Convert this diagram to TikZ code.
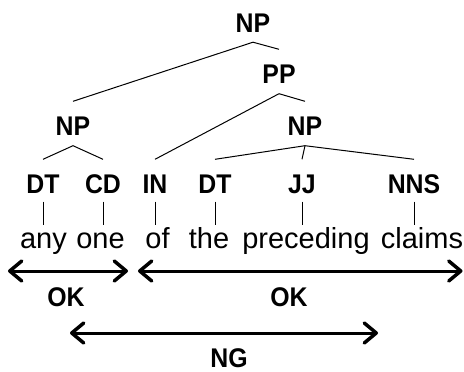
\documentclass[tikz,border=0pt]{standalone}
\usepackage{fontspec}
\usetikzlibrary{arrows.meta}
\newfontfamily\tagfont{Liberation Sans}[FakeStretch=0.92]
\newfontfamily\wordfont{Liberation Sans}
\begin{document}
\begin{tikzpicture}[x=1pt,y=1pt,
  tag/.style={font=\tagfont\bfseries\fontsize{27}{27}\selectfont, inner sep=0pt, text height=19pt, text depth=0pt},
  word/.style={font=\wordfont\fontsize{29}{29}\selectfont, inner sep=0pt, text height=23pt, text depth=8pt, anchor=base},
  branch/.style={line width=1pt},
  span/.style={line width=3pt, {Straight Barb[length=12pt,width=20pt,line width=3.5pt,round]}-{Straight Barb[length=12pt,width=20pt,line width=3.5pt,round]}}
]
\useasboundingbox (0,0) rectangle (464,-372);

% phrase labels
\node[tag] (np0) at (253,-22.5) {NP};
\node[tag] (pp)  at (279,-74) {PP};
\node[tag] (npl) at (73,-126) {NP};
\node[tag] (npr) at (305,-126) {NP};

% part-of-speech tags
\node[tag] (dt1) at (43,-184) {DT};
\node[tag] (cd)  at (103,-184) {CD};
\node[tag] (in)  at (155,-184) {IN};
\node[tag] (dt2) at (215,-184) {DT};
\node[tag] (jj)  at (302,-184) {JJ};
\node[tag] (nns) at (414,-184) {NNS};

% words
\node[word] (w1) at (43.5,-248) {any};
\node[word] (w2) at (100.5,-248) {one};
\node[word] (w3) at (157.5,-248) {of};
\node[word] (w4) at (209,-248) {the};
\node[word] (w5) at (306,-248) {preceding};
\node[word] (w6) at (422,-248) {claims};

% tree branches
\foreach \p/\c in {np0/npl, np0/pp, pp/in, pp/npr, npl/dt1, npl/cd, npr/dt2, npr/jj, npr/nns}
  \draw[branch] ([yshift=-10pt]\p.south) -- ([yshift=15pt]\c.north);

% leaf links
\foreach \t/\w in {dt1/w1, cd/w2, in/w3, dt2/w4, jj/w5, nns/w6}
  \draw[branch] ([yshift=-8pt]\t.south) -- (\t.south |- \w.north);

% spans
\coordinate (a1) at (8,-271);
\coordinate (b1) at (128,-271);
\coordinate (a2) at (138,-271);
\coordinate (b2) at (462.5,-271);
\coordinate (a3) at (70,-333);
\coordinate (b3) at (378,-333);
\draw[span] (a1) -- (b1);
\draw[span] (a2) -- (b2);
\draw[span] (a3) -- (b3);

\node[tag] (ok1) at (66,-297) {OK};
\node[tag] (ok2) at (289,-297) {OK};
\node[tag] (ng)  at (229,-358) {NG};
\end{tikzpicture}
\end{document}
